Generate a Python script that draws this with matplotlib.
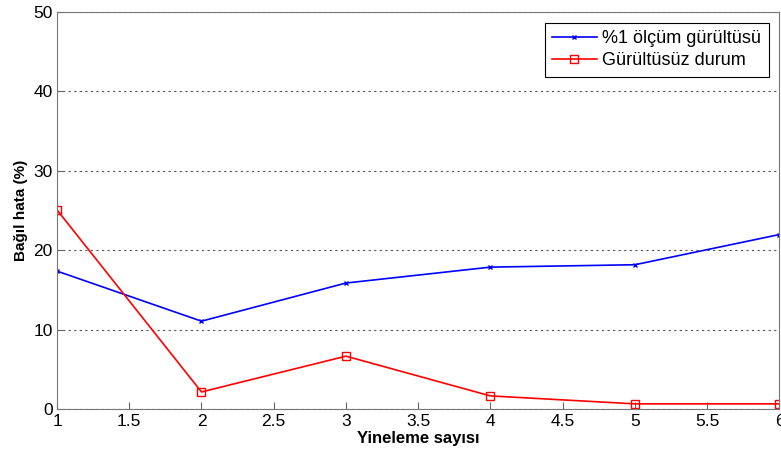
import matplotlib
matplotlib.use("Agg")
import matplotlib.pyplot as plt

# data
iterations = [1, 2, 3, 4, 5, 6]
noisy = [17.4, 11.1, 15.9, 17.9, 18.2, 22.0]
clean = [25.1, 2.2, 6.7, 1.7, 0.7, 0.7]

plt.rcParams['font.family'] = ['Liberation Sans', 'DejaVu Sans']

def main():
	fig = plt.figure(figsize=(7.81, 4.59), dpi=100)
	ax = fig.add_axes([0.073, 0.108, 0.925, 0.866])

	ax.plot(iterations, noisy, 'b-', marker='x', markersize=3, linewidth=1.2,
		label="%1 ölçüm gürültüsü")
	ax.plot(iterations, clean, 'r-', marker='s', markersize=6, markerfacecolor='none',
		linewidth=1.2, label="Gürültüsüz durum")

	ax.set_xlim(1, 6)
	ax.set_ylim(0, 50)
	ax.set_xticks([1, 1.5, 2, 2.5, 3, 3.5, 4, 4.5, 5, 5.5, 6])
	ax.set_xticklabels(["1", "1.5", "2", "2.5", "3", "3.5", "4", "4.5", "5", "5.5", "6"])
	ax.set_yticks([0, 10, 20, 30, 40, 50])
	ax.yaxis.grid(True, linestyle=(0, (2, 3)), color='#555555', linewidth=0.8)
	ax.tick_params(direction='in', labelsize=12.5, length=5, color='#666666', pad=3)
	for s in ax.spines.values():
		s.set_color('#777777')

	ax.set_xlabel("Yineleme sayısı", fontsize=12, fontweight='bold', labelpad=2)
	ax.set_ylabel("Bağıl hata (%)", fontsize=11, fontweight='bold', labelpad=4)

	leg = ax.legend(loc='upper right', fontsize=13, fancybox=False, framealpha=1,
		handlelength=2.5, borderaxespad=0.6, labelspacing=0.3, handletextpad=0.3)
	leg.get_frame().set_edgecolor('black')
	leg.get_frame().set_linewidth(0.8)

	fig.savefig("out.png", dpi=100)

if __name__ == "__main__":
	main()
